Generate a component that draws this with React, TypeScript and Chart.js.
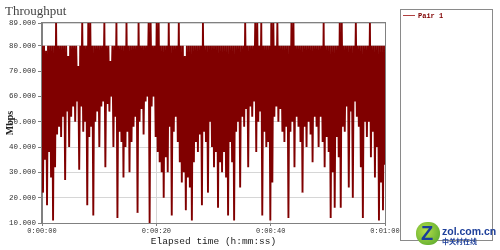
import React, { useEffect, useRef } from "react";
import { Chart, registerables } from "chart.js";

Chart.register(...registerables);

// Throughput samples (Mbps), one sample per ~0.176 s
const SEG_0_20 = [
  80, 22, 80, 35, 78, 17, 80, 38, 80, 28, 80, 11, 80, 32, 89, 45, 80, 48, 80, 44,
  80, 52, 80, 27, 80, 54, 76, 40, 80, 52, 80, 56, 80, 50, 80, 58, 72, 31, 80, 56,
  89, 46, 80, 50, 80, 17, 89, 44, 89, 48, 80, 13, 80, 50, 80, 54, 80, 40, 80, 56,
  80, 58, 89, 32, 80, 57, 80, 54, 74, 60, 80, 40, 80, 52, 89, 12, 80, 46, 80, 42,
  80, 28, 80, 40, 89, 46, 80, 30, 80, 42, 80, 48, 80, 52, 80, 14, 89, 50, 80, 55,
  80, 45, 80, 58, 80, 60, 89, 10, 89, 56, 80, 60, 80, 44,
];
const SEG_20_40 = [
  89, 38, 89, 34, 80, 30, 80, 20, 80, 36, 80, 30, 89, 48, 80, 13, 80, 46, 80, 52,
  80, 42, 89, 34, 80, 26, 80, 30, 76, 15, 80, 28, 80, 24, 80, 11, 80, 34, 80, 42,
  80, 38, 80, 45, 80, 17, 89, 46, 80, 42, 80, 22, 80, 50, 80, 40, 80, 32, 80, 38,
  80, 16, 80, 34, 80, 30, 80, 38, 80, 28, 80, 13, 80, 42, 80, 34, 80, 11, 80, 46,
  80, 50, 80, 24, 80, 52, 80, 48, 89, 55, 80, 32, 80, 56, 80, 52, 80, 58, 89, 38,
  89, 50, 80, 54, 89, 13, 80, 46, 80, 40, 80, 42, 80, 11,
];
const SEG_40_60 = [
  89, 26, 89, 52, 80, 56, 89, 50, 80, 55, 80, 46, 80, 42, 80, 48, 80, 12, 80, 46,
  89, 50, 89, 32, 80, 52, 80, 48, 80, 42, 80, 22, 80, 48, 80, 40, 80, 50, 80, 45,
  80, 34, 80, 52, 80, 48, 80, 40, 80, 52, 80, 42, 89, 32, 80, 44, 80, 38, 80, 12,
  80, 30, 80, 16, 80, 44, 80, 36, 89, 16, 89, 48, 80, 46, 80, 56, 80, 24, 80, 54,
  80, 20, 80, 58, 89, 52, 80, 48, 80, 32, 80, 12, 80, 50, 80, 44, 80, 50, 89, 36,
  80, 46, 80, 28, 80, 40, 80, 11, 80, 26, 80, 15, 80, 33,
];

const Y_TICKS = [10, 20, 30, 40, 50, 60, 70, 80, 89];
const X_TICKS = [0, 20, 40, 60];
const DURATION_S = 60;
const SERIES_NAME = "Pair 1";
const CHART_TITLE = "Throughput";
const Y_TITLE = "Mbps";
const X_TITLE = "Elapsed time (h:mm:ss)";

const LINE_COLOR = "#800000";

function fmtTime(s: number): string {
  const h = Math.floor(s / 3600);
  const m = Math.floor((s % 3600) / 60);
  const sec = Math.round(s % 60);
  return `${h}:${String(m).padStart(2, "0")}:${String(sec).padStart(2, "0")}`;
}

const frameBox = {
  id: "frameBox",
  afterDatasetsDraw(chart: any) {
    const { ctx, chartArea } = chart;
    ctx.save();
    ctx.strokeStyle = "#808080";
    ctx.lineWidth = 1;
    ctx.strokeRect(
      Math.round(chartArea.left) - 0.5,
      Math.round(chartArea.top) - 0.5,
      Math.round(chartArea.right - chartArea.left) + 1,
      Math.round(chartArea.bottom - chartArea.top) + 1
    );
    ctx.restore();
  },
};

export default function App() {
  const ref = useRef<HTMLCanvasElement | null>(null);

  useEffect(() => {
    if (!ref.current) return;
    const values = [...SEG_0_20, ...SEG_20_40, ...SEG_40_60];
    const n = values.length;
    const points = values.map((v, i) => ({ x: (i * DURATION_S) / (n - 1), y: v }));

    const chart = new Chart(ref.current, {
      type: "line",
      data: {
        datasets: [
          {
            label: SERIES_NAME,
            data: points,
            borderColor: LINE_COLOR,
            borderWidth: 1.9,
            borderJoinStyle: "miter",
            pointRadius: 0,
            fill: false,
            tension: 0,
          },
        ],
      },
      plugins: [frameBox],
      options: {
        responsive: false,
        animation: false,
        layout: { padding: { top: 23, right: 115, bottom: 0, left: 0 } },
        plugins: {
          legend: { display: false },
          title: { display: false },
          tooltip: { enabled: false },
        },
        scales: {
          x: {
            type: "linear",
            min: 0,
            max: DURATION_S,
            afterBuildTicks: (s: any) => {
              s.ticks = X_TICKS.map((v) => ({ value: v }));
            },
            afterFit: (s: any) => {
              s.height = 27;
            },
            ticks: {
              callback: (v: any) => fmtTime(Number(v)),
              font: { family: "Liberation Mono", size: 7 },
              color: "#333",
              maxRotation: 0,
              autoSkip: false,
              padding: 1,
            },
            grid: { color: "#d6d6d6", tickLength: 3, tickColor: "#808080" },
            border: { color: "#808080", width: 1 },
            title: {
              display: true,
              text: X_TITLE,
              font: { family: "Liberation Mono", size: 9.5 },
              color: "#222",
              padding: { top: 0, bottom: 3 },
            },
          },
          y: {
            min: 10,
            max: 89,
            afterBuildTicks: (s: any) => {
              s.ticks = Y_TICKS.map((v) => ({ value: v }));
            },
            afterFit: (s: any) => {
              s.width = 42;
            },
            ticks: {
              callback: (v: any) => Number(v).toFixed(3),
              font: { family: "Liberation Mono", size: 7.5 },
              color: "#333",
              autoSkip: false,
              padding: 2,
            },
            grid: { color: "#d6d6d6", tickLength: 4, tickColor: "#808080" },
            border: { color: "#808080", width: 1 },
            title: {
              display: true,
              text: Y_TITLE,
              font: { family: "Liberation Serif", size: 10, weight: "bold" },
              color: "#222",
              padding: { top: 4, bottom: 0 },
            },
          },
        },
      } as any,
    });
    return () => chart.destroy();
  }, []);

  return (
    <div
      style={{
        position: "absolute",
        left: 0,
        top: 0,
        width: 500,
        height: 250,
        background: "#fff",
        overflow: "hidden",
      }}
    >
      <canvas ref={ref} width={500} height={250} style={{ width: 500, height: 250, display: "block" }} />
      <div
        style={{
          position: "absolute",
          left: 5,
          top: 4,
          font: "13px 'Liberation Serif'",
          lineHeight: "13px",
          color: "#444",
        }}
      >
        {CHART_TITLE}
      </div>
      <div
        style={{
          position: "absolute",
          left: 400,
          top: 9,
          width: 93,
          height: 232,
          boxSizing: "border-box",
          border: "1px solid #8a8a8a",
        }}
      >
        <div
          style={{
            position: "absolute",
            left: 2,
            top: 5,
            width: 12,
            height: 1,
            background: "#b04040",
          }}
        />
        <div
          style={{
            position: "absolute",
            left: 17,
            top: 1,
            font: "bold 7px 'Liberation Mono'",
            lineHeight: "10px",
            color: LINE_COLOR,
          }}
        >
          {SERIES_NAME}
        </div>
      </div>
      <div
        style={{
          position: "absolute",
          left: 416,
          top: 222,
          width: 24,
          height: 23,
          borderRadius: 11,
          background: "radial-gradient(circle at 40% 40%, #b8e04a, #4aa02a)",
        }}
      >
        <div
          style={{
            position: "absolute",
            left: 5,
            top: 0,
            font: "bold 20px 'Liberation Sans'",
            lineHeight: "23px",
            color: "#1b3e9c",
          }}
        >
          Z
        </div>
      </div>
      <div
        style={{
          position: "absolute",
          left: 442,
          top: 226,
          font: "bold 10.5px 'Liberation Sans'",
          lineHeight: "11px",
          color: "#1d3f9a",
        }}
      >
        zol.com.cn
      </div>
      <div
        style={{
          position: "absolute",
          left: 442,
          top: 237,
          font: "bold 7px 'Noto Sans CJK SC'",
          lineHeight: "8px",
          color: "#1d3f9a",
        }}
      >
        中关村在线
      </div>
    </div>
  );
}
